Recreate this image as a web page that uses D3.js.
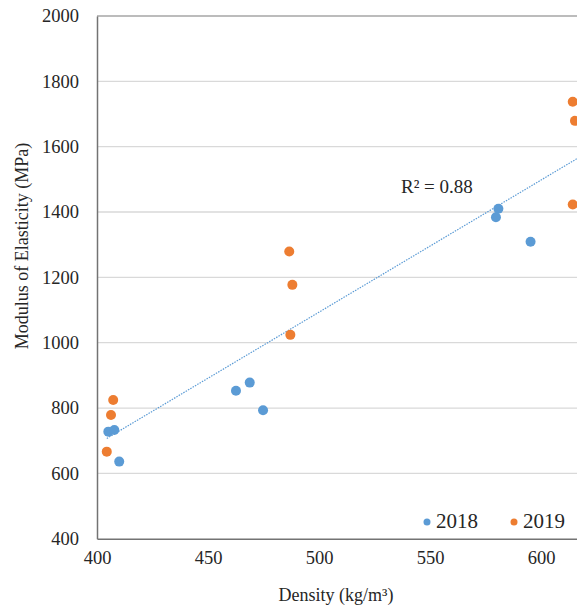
<!DOCTYPE html>
<html>
<head>
<meta charset="utf-8">
<script src="https://cdn.jsdelivr.net/npm/d3@7"></script>
<style>
  html, body { margin: 0; padding: 0; background: #fff; }
  svg text { font-family: "Liberation Serif", "Times New Roman", "DejaVu Serif", serif !important; }
</style>
</head>
<body>
<svg id="chart" width="577" height="608"></svg>
<script>
// Density (kg/m³) and modulus of elasticity (MPa) samples per year
const density2018 = [405.1, 407.8, 410.0, 462.6, 468.8, 474.8, 580.8, 579.7, 595.3];
const moe2018     = [727.7, 733.0, 636.0, 853.0, 877.8, 793.0, 1409.8, 1384.0, 1308.7];
const density2019 = [407.3, 406.3, 404.4, 486.6, 488.0, 487.1, 614.3, 615.3, 614.3];
const moe2019     = [824.8, 778.9, 666.5, 1279.0, 1177.0, 1024.0, 1737.5, 1679.0, 1423.0];

const seriesNames = ["2018", "2019"];
const seriesColors = ["#5B9BD5", "#ED7D31"];
const xTicks = [400, 450, 500, 550, 600];
const yTicks = [400, 600, 800, 1000, 1200, 1400, 1600, 1800, 2000];
const r2Label = "R² = 0.88";

const svg = d3.select("#chart");

const x = d3.scaleLinear().domain([400, 650]).range([97, 652]);
const y = d3.scaleLinear().domain([400, 2000]).range([538.7, 16]);

// horizontal gridlines
svg.append("g")
  .selectAll("line")
  .data(yTicks.filter(d => d > 400))
  .join("line")
  .attr("x1", x(400)).attr("x2", x(650))
  .attr("y1", d => y(d)).attr("y2", d => y(d))
  .attr("stroke", d => d === 2000 ? "#a6a6a6" : "#d9d9d9").attr("stroke-width", 1.3);

// axes
const yAxis = d3.axisLeft(y).tickValues(yTicks).tickSize(0).tickPadding(18).tickFormat(d3.format("d"));
const gy = svg.append("g").attr("transform", `translate(${x(400)},0)`).call(yAxis);
gy.attr("font-family", null);
gy.select(".domain").attr("stroke", "#737373").attr("stroke-width", 1.5);
gy.selectAll("text").attr("font-size", 18.5).attr("fill", "#262626");

const xAxis = d3.axisBottom(x).tickValues(xTicks).tickSize(0).tickPadding(12).tickFormat(d3.format("d"));
const gx = svg.append("g").attr("transform", `translate(0,${y(400)})`).call(xAxis);
gx.attr("font-family", null);
gx.select(".domain").attr("stroke", "#737373").attr("stroke-width", 1.5);
gx.selectAll("text").attr("font-size", 18.5).attr("fill", "#262626");

// linear trendline over all samples
const allX = density2018.concat(density2019);
const allY = moe2018.concat(moe2019);
const mx = d3.mean(allX), my = d3.mean(allY);
const slope = d3.sum(allX, (v, i) => (v - mx) * (allY[i] - my)) / d3.sum(allX, v => (v - mx) ** 2);
const intercept = my - slope * mx;
const [xmin, xmax] = d3.extent(allX);
svg.append("line")
  .attr("x1", x(xmin)).attr("y1", y(slope * xmin + intercept))
  .attr("x2", x(xmax + 1)).attr("y2", y(slope * (xmax + 1) + intercept))
  .attr("stroke", "#5B9BD5").attr("stroke-width", 1.2)
  .attr("stroke-dasharray", "1.5,1.2");

// scatter points
const series = [
  { name: seriesNames[0], color: seriesColors[0], pts: density2018.map((d, i) => [d, moe2018[i]]) },
  { name: seriesNames[1], color: seriesColors[1], pts: density2019.map((d, i) => [d, moe2019[i]]) }
];
series.forEach(s => {
  svg.append("g")
    .selectAll("circle")
    .data(s.pts)
    .join("circle")
    .attr("cx", d => x(d[0]))
    .attr("cy", d => y(d[1]))
    .attr("r", 5)
    .attr("fill", s.color);
});

// R² label
svg.append("text")
  .attr("x", 401).attr("y", 193)
  .attr("font-size", 19).attr("fill", "#262626")
  .text(r2Label);

// legend
const legendPos = [427, 514];
series.forEach((s, i) => {
  svg.append("circle").attr("cx", legendPos[i]).attr("cy", 522).attr("r", 3.5).attr("fill", s.color);
  svg.append("text").attr("x", legendPos[i] + 9).attr("y", 528)
    .attr("font-size", 21).attr("fill", "#262626").text(s.name);
});

// axis titles
svg.append("text")
  .attr("x", 336).attr("y", 601)
  .attr("text-anchor", "middle")
  .attr("font-size", 18).attr("fill", "#262626")
  .text("Density (kg/m³)");

svg.append("text")
  .attr("transform", "translate(28,246) rotate(-90)")
  .attr("text-anchor", "middle")
  .attr("font-size", 18).attr("fill", "#262626")
  .text("Modulus of Elasticity (MPa)");
</script>
</body>
</html>
